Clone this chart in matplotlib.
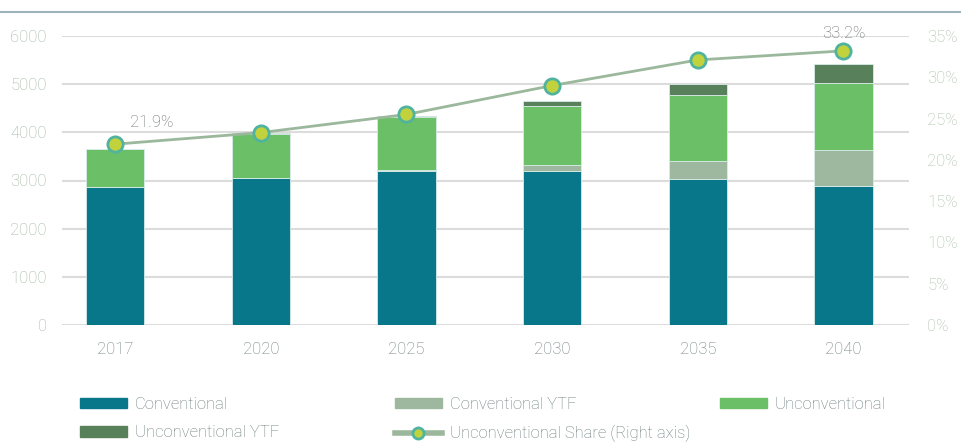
import matplotlib
matplotlib.use("Agg")
import matplotlib.pyplot as plt
from matplotlib.lines import Line2D
from matplotlib.patches import Patch
import numpy as np

years = ["2017", "2020", "2025", "2030", "2035", "2040"]
conventional = [2860, 3050, 3195, 3190, 3030, 2880]
conventional_ytf = [0, 0, 15, 125, 370, 755]
unconventional = [790, 920, 1100, 1230, 1370, 1390]
unconventional_ytf = [0, 20, 30, 110, 235, 400]
share_pct = [21.9, 23.3, 25.5, 29.0, 32.1, 33.2]
share_labels = {0: "21.9%", 5: "33.2%"}

c_conv = "#08778a"
c_conv_ytf = "#9db89e"
c_unconv = "#6bbf67"
c_unconv_ytf = "#58805b"
c_line = "#9bb89c"
c_mface = "#c2d23c"
c_medge = "#4fb3a0"

plt.rcParams["font.family"] = ["Roboto", "DejaVu Sans"]

fig = plt.figure(figsize=(9.62, 4.42), dpi=100)
ax = fig.add_axes([62 / 962, 1 - 325 / 442, (909 - 62) / 962, (325 - 36) / 442])

x = np.arange(len(years))
w = 0.4
bottoms = np.zeros(len(years))
series = [(conventional, c_conv), (conventional_ytf, c_conv_ytf),
          (unconventional, c_unconv), (unconventional_ytf, c_unconv_ytf)]
for vals, col in series:
    ax.bar(x, vals, w, bottom=bottoms, color=col, edgecolor="#d8ece8",
           linewidth=0.6, zorder=3)
    bottoms += np.array(vals)

ax.set_xlim(-0.365, 5.45)
ax.set_ylim(0, 6000)
ax.set_yticks(range(0, 6001, 1000))
ax.yaxis.grid(True, color="#dcdcdc", linewidth=1.5, zorder=0)
ax.set_axisbelow(True)
for s in ax.spines.values():
    s.set_visible(False)
ax.set_xticks(x)
ax.set_xticklabels(years)
ax.tick_params(axis="x", length=0, pad=12, labelsize=12, labelcolor="#6b7b7b")
ax.tick_params(axis="y", length=0, pad=11, labelsize=12, labelcolor="#9fb5a0")
for t in ax.get_xticklabels() + ax.get_yticklabels():
    t.set_fontweight("light")

ax2 = ax.twinx()
ax2.set_ylim(0, 35)
ax2.set_yticks(range(0, 36, 5))
ax2.set_yticklabels([f"{v}%" for v in range(0, 36, 5)])
ax2.tick_params(axis="y", length=0, pad=13, labelsize=12, labelcolor="#a8bfa8")
for t in ax2.get_yticklabels():
    t.set_fontweight("light")
for s in ax2.spines.values():
    s.set_visible(False)
ax2.plot(x, share_pct, color=c_line, linewidth=2, marker="o", markersize=11,
         markerfacecolor=c_mface, markeredgecolor=c_medge, markeredgewidth=2,
         zorder=5)
# first label sits right of its marker, last one centred above
offsets = {0: (26, 10), 5: (0, 7)}
for i, lab in share_labels.items():
    ax2.annotate(lab, (x[i], share_pct[i]), xytext=offsets[i],
                 textcoords="offset points", ha="center", va="bottom",
                 fontsize=12, color="#6b7070", fontweight="light")

# top rule
fig.add_artist(Line2D([0, 1], [1 - 12 / 442] * 2, color="#9fb3bd", linewidth=1.5))

# legend in three manual columns
h_conv = Patch(color=c_conv)
h_cytf = Patch(color=c_conv_ytf)
h_unc = Patch(color=c_unconv)
h_uytf = Patch(color=c_unconv_ytf)
h_share = Line2D([], [], color=c_line, linewidth=4, marker="o", markersize=8,
                 markerfacecolor=c_mface, markeredgecolor=c_medge, markeredgewidth=2)
cols = [([h_conv, h_uytf], ["Conventional", "Unconventional YTF"], 80),
        ([h_cytf, h_share], ["Conventional YTF", "Unconventional Share (Right axis)"], 395),
        ([h_unc], ["Unconventional"], 720)]
for hs, ls, xp in cols:
    leg = fig.legend(hs, ls, loc="upper left", bbox_to_anchor=(xp / 962, 1 - 397 / 442),
                     frameon=False, fontsize=12, handlelength=2.8, handleheight=0.6,
                     handletextpad=0.5, labelspacing=0.8, borderpad=0, borderaxespad=0,
                     labelcolor="#6b7b7b")
    for t in leg.get_texts():
        t.set_fontweight("light")

fig.savefig("out.png", dpi=100)
